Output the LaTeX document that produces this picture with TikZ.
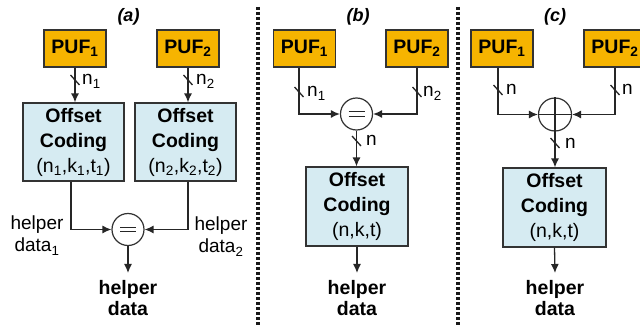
\documentclass[tikz,border=0pt]{standalone}
\usepackage{fontspec}
\setmainfont{Liberation Sans}
\usetikzlibrary{arrows.meta}
\definecolor{pufor}{HTML}{F6B400}
\definecolor{offbl}{HTML}{D6EBF2}
\definecolor{edgec}{HTML}{333333}
\begin{document}
\begin{tikzpicture}[x=1pt,y=-1pt,
 pufbox/.style={draw=edgec, fill=pufor, line width=1.2pt, minimum width=62pt, minimum height=37pt, inner sep=0pt, font=\fontsize{19.5}{23}\selectfont\bfseries},
 offbox/.style={draw=edgec, fill=offbl, line width=1.2pt, minimum width=101pt, minimum height=78pt, inner sep=0pt, align=center, font=\fontsize{19.5}{25}\selectfont},
 opcirc/.style={draw=edgec, circle, line width=1.2pt, minimum size=32pt, inner sep=0pt},
 wire/.style={line width=1.3pt, draw=black!85},
 arr/.style={wire, -{Latex[length=9pt,width=8pt]}},
 lbl/.style={font=\fontsize{19}{22}\selectfont, inner sep=0pt},
 outlbl/.style={font=\fontsize{19.5}{21}\selectfont\bfseries, align=center, inner sep=0pt, anchor=north},
 ttl/.style={font=\fontsize{18}{20}\selectfont\bfseries\itshape, inner sep=0pt},
 divider/.style={line width=3.3pt, dash pattern=on 3pt off 2pt, draw=black!90}
]
\useasboundingbox[fill=white] (0,0) rectangle (640,331);

% ---------- (a) ----------
\node[ttl] (ta) at (128.5,17) {(a)};
\node[pufbox] (a1) at (75,48.5) {PUF\textsubscript{1}};
\node[pufbox] (a2) at (188,48.5) {PUF\textsubscript{2}};
\node[offbox] (ao1) at (73.5,142) {\textbf{Offset}\\\textbf{Coding}\\(n\textsubscript{1},k\textsubscript{1},t\textsubscript{1})};
\node[offbox] (ao2) at (185.5,142) {\textbf{Offset}\\\textbf{Coding}\\(n\textsubscript{2},k\textsubscript{2},t\textsubscript{2})};
\node[opcirc] (ac) at (128,229.5) {};
\node[outlbl] (aout) at (128,280) {helper\\data};
\node[lbl, align=center, anchor=north] (ah1) at (37,216) {helper\\data\textsubscript{1}};
\node[lbl, align=center, anchor=north] (ah2) at (221,217) {helper\\data\textsubscript{2}};
\node[lbl, anchor=base west] (an1) at (82,85) {n\textsubscript{1}};
\node[lbl, anchor=base west] (an2) at (196,85) {n\textsubscript{2}};

\draw[arr] (a1.south) -- (a1.south |- ao1.north);
\draw[arr] (a2.south) -- (a2.south |- ao2.north);
\draw[arr] ([xshift=-2.5pt]ao1.south) |- (ac.west);
\draw[arr] ([xshift=2.5pt]ao2.south) |- (ac.east);
\draw[arr] (ac.south) -- ([yshift=7pt]aout.north);
\draw[wire] ([shift={(-8,-2.2)}]ac.center) -- ++(16,0);
\draw[wire] ([shift={(-8,2.2)}]ac.center) -- ++(16,0);
\draw[wire] (70.5,75) -- ++(9,10);
\draw[wire] (183.5,75) -- ++(9,10);

% ---------- divider ----------
\draw[divider] (258,7) -- (258,326);
\draw[divider] (458,7) -- (458,326);

% ---------- (b) ----------
\node[ttl] (tb) at (358,17) {(b)};
\node[pufbox] (b1) at (304.5,48.5) {PUF\textsubscript{1}};
\node[pufbox] (b2) at (417,48.5) {PUF\textsubscript{2}};
\node[opcirc] (bc) at (356.5,114) {};
\node[offbox, minimum width=102pt, minimum height=79pt] (bo) at (357,206.5) {\textbf{Offset}\\\textbf{Coding}\\(n,k,t)};
\node[outlbl] (bout) at (357,280) {helper\\data};
\node[lbl, anchor=base west] (bn1) at (307,97) {n\textsubscript{1}};
\node[lbl, anchor=base west] (bn2) at (423,97) {n\textsubscript{2}};
\node[lbl, anchor=base west] (bn) at (366,146) {n};

\draw[arr] ([xshift=-5.5pt]b1.south) |- (bc.west);
\draw[arr] (b2.south) |- (bc.east);
\draw[arr] (bc.south) -- (bc.south |- bo.north);
\draw[arr] (bo.south) -- ([yshift=7pt]bout.north);
\draw[wire] ([shift={(-8,-2.2)}]bc.center) -- ++(16,0);
\draw[wire] ([shift={(-8,2.2)}]bc.center) -- ++(16,0);
\draw[wire] (294.5,87) -- ++(9,10);
\draw[wire] (412.5,87) -- ++(9,10);
\draw[wire] (352,136) -- ++(9,10);

% ---------- (c) ----------
\node[ttl] (tc) at (555,17) {(c)};
\node[pufbox] (c1) at (502,48.5) {PUF\textsubscript{1}};
\node[pufbox] (c2) at (615,48.5) {PUF\textsubscript{2}};
\node[opcirc, minimum size=33pt] (cc) at (555,114.5) {};
\node[offbox, minimum width=103pt, minimum height=79pt] (co) at (554.5,207.5) {\textbf{Offset}\\\textbf{Coding}\\(n,k,t)};
\node[outlbl] (cout) at (555,280) {helper\\data};
\node[lbl, anchor=base west] (cn1) at (506,95) {n};
\node[lbl, anchor=base west] (cn2) at (622,95) {n};
\node[lbl, anchor=base west] (cn) at (565,149) {n};

\draw[arr] ([xshift=-4pt]c1.south) |- (cc.west);
\draw[arr] (c2.south) |- (cc.east);
\draw[arr] (cc.south) -- (cc.south |- co.north);
\draw[arr] (co.south) -- ([yshift=7pt]cout.north);
\draw[wire] (cc.north) -- (cc.south);
\draw[wire] (cc.west) -- (cc.east);
\draw[wire] (493.5,85) -- ++(9,10);
\draw[wire] (610.5,85) -- ++(9,10);
\draw[wire] (550.5,138) -- ++(9,10);
\end{tikzpicture}
\end{document}
